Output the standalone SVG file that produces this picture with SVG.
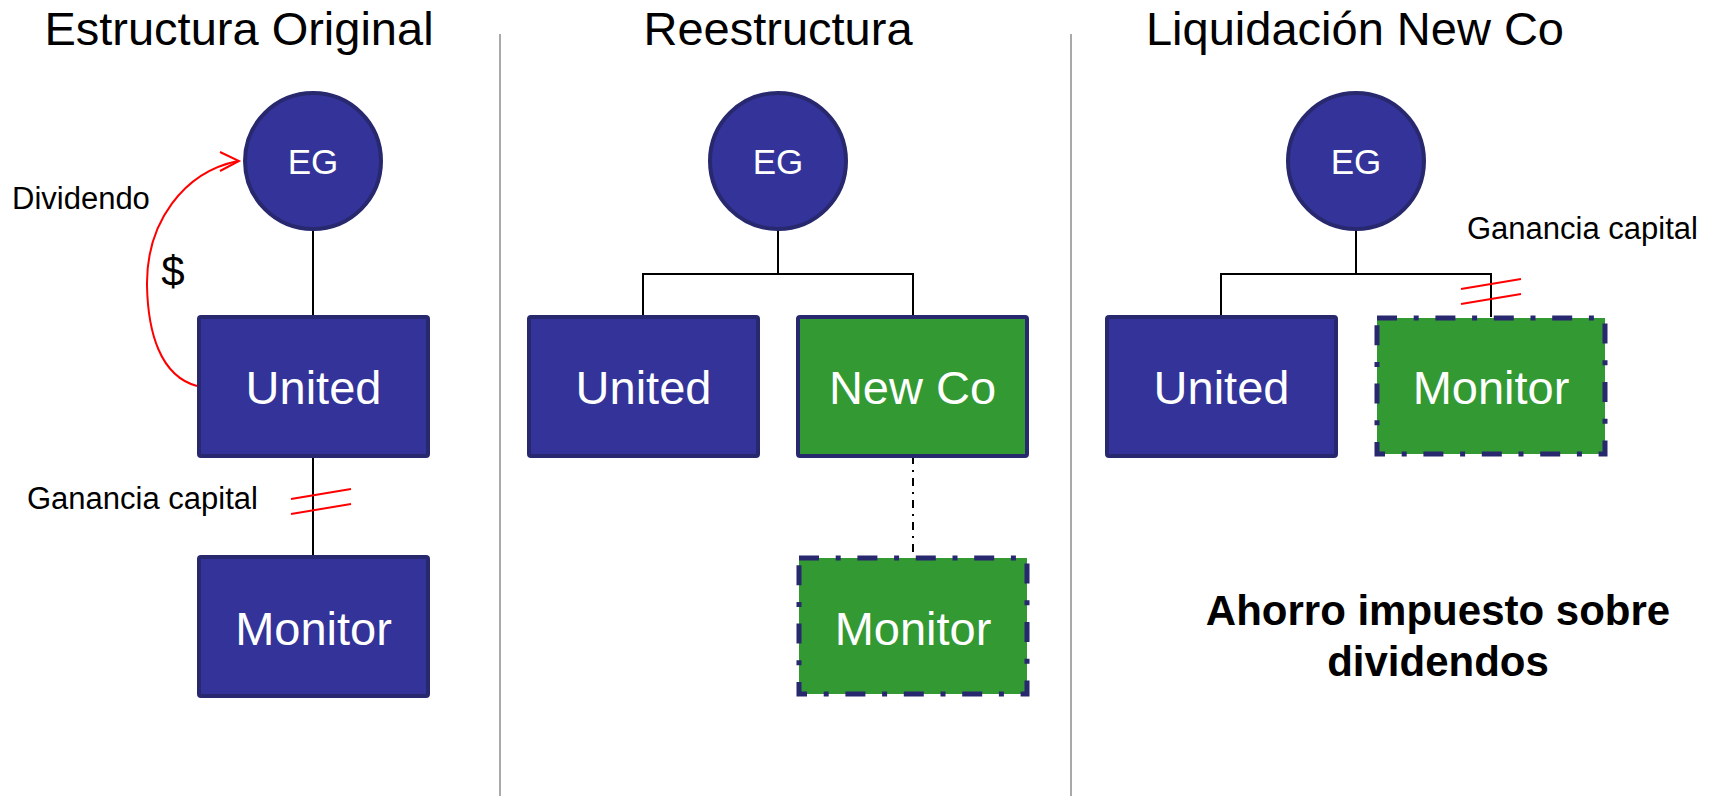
<svg xmlns="http://www.w3.org/2000/svg" width="1717" height="796" viewBox="0 0 1717 796">
<style>
  .title{font-family:"Liberation Sans",Arial,sans-serif;font-size:47px;fill:#000;text-anchor:middle}
  .lbl{font-family:"Liberation Sans",Arial,sans-serif;font-size:31px;fill:#000}
  .dollar{font-family:"Liberation Sans",Arial,sans-serif;font-size:42px;fill:#000;text-anchor:middle}
  .note{font-family:"Liberation Sans",Arial,sans-serif;font-size:42px;font-weight:bold;fill:#000;text-anchor:middle}
  .node-text{font-family:"Liberation Sans",Arial,sans-serif;fill:#fff;text-anchor:middle}
  .eg{font-size:35px}
  .box{font-size:47px}
  .blue{fill:#333399;stroke:#28286f;stroke-width:4}
  .green{fill:#339933;stroke:#28286f;stroke-width:4}
  .dashed{fill:#339933;stroke:#28286f;stroke-width:5;stroke-dasharray:20 16.7 5 16.7}
  .conn{stroke:#000;stroke-width:2;fill:none}
  .dashdot{stroke:#000;stroke-width:2;fill:none;stroke-dasharray:8 6 2 6}
  .red{stroke:#ff0000;stroke-width:2;fill:none}
  .divider{stroke:#8c8c8c;stroke-width:1.5}
</style>
<rect width="1717" height="796" fill="#fff"/>
<g id="titles">
  <text class="title" x="239" y="45">Estructura Original</text>
  <text class="title" x="778" y="45">Reestructura</text>
  <text class="title" x="1355" y="45">Liquidación New Co</text>
</g>
<g id="dividers">
  <line class="divider" x1="500" y1="34" x2="500" y2="796"/>
  <line class="divider" x1="1071" y1="34" x2="1071" y2="796"/>
</g>
<g id="connectors">
  <line class="conn" x1="313" y1="230" x2="313" y2="317"/>
  <line class="conn" x1="313" y1="456" x2="313" y2="557"/>
  <path class="conn" d="M778 230 V274 M643 317 V274 H913 V317"/>
  <line class="dashdot" x1="913" y1="456" x2="913" y2="557"/>
  <path class="conn" d="M1356 230 V274 M1221 317 V274 H1491 V317"/>
  <path class="red" stroke-width="2.5" d="M197 386 C160 376 148 332 147 286 C146 222 184 172 238 161"/>
  <path class="red" stroke-width="2.5" d="M220 152 L239 161 L220 171"/>
  <line class="red" x1="291" y1="499" x2="351" y2="489"/>
  <line class="red" x1="291" y1="514" x2="351" y2="504"/>
  <line class="red" x1="1461" y1="289" x2="1521" y2="279"/>
  <line class="red" x1="1461" y1="304" x2="1521" y2="294"/>
</g>
<g id="labels">
  <text class="lbl" x="12" y="209">Dividendo</text>
  <text class="dollar" x="173" y="286">$</text>
  <text class="lbl" x="27" y="509">Ganancia capital</text>
  <text class="lbl" x="1467" y="239">Ganancia capital</text>
  <text class="note" x="1438" y="625">Ahorro impuesto sobre</text>
  <text class="note" x="1438" y="676">dividendos</text>
</g>
<g id="eg1">
  <circle class="blue" cx="313" cy="161" r="68"/>
  <text class="node-text eg" x="313" y="174">EG</text>
</g>
<g id="united1">
  <rect class="blue" x="199" y="317" width="229" height="139" rx="2"/>
  <text class="node-text box" x="313.5" y="404">United</text>
</g>
<g id="monitor1">
  <rect class="blue" x="199" y="557" width="229" height="139" rx="2"/>
  <text class="node-text box" x="313.5" y="645">Monitor</text>
</g>
<g id="eg2">
  <circle class="blue" cx="778" cy="161" r="68"/>
  <text class="node-text eg" x="778" y="174">EG</text>
</g>
<g id="united2">
  <rect class="blue" x="529" y="317" width="229" height="139" rx="2"/>
  <text class="node-text box" x="643.5" y="404">United</text>
</g>
<g id="newco2">
  <rect class="green" x="798" y="317" width="229" height="139" rx="2"/>
  <text class="node-text box" x="912.5" y="404">New Co</text>
</g>
<g id="monitor2">
  <rect class="dashed" x="799" y="558" width="228" height="136"/>
  <text class="node-text box" x="913" y="645">Monitor</text>
</g>
<g id="eg3">
  <circle class="blue" cx="1356" cy="161" r="68"/>
  <text class="node-text eg" x="1356" y="174">EG</text>
</g>
<g id="united3">
  <rect class="blue" x="1107" y="317" width="229" height="139" rx="2"/>
  <text class="node-text box" x="1221.5" y="404">United</text>
</g>
<g id="monitor3">
  <rect class="dashed" x="1377" y="318" width="228" height="136"/>
  <text class="node-text box" x="1491" y="404">Monitor</text>
</g>
</svg>
